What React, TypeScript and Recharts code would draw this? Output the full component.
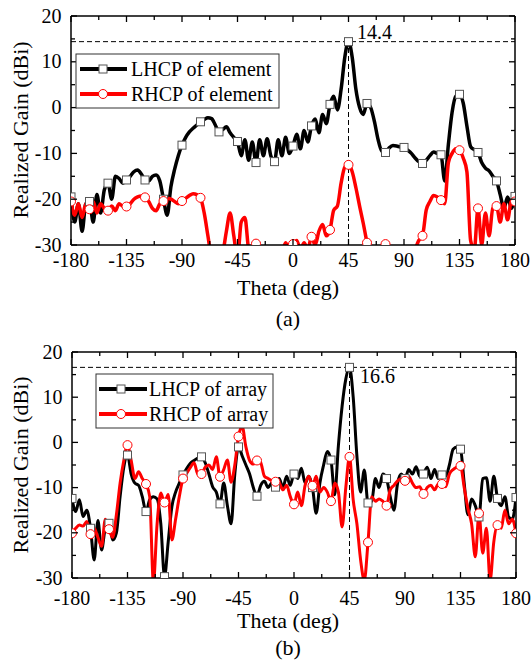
import React from 'react';
import { LineChart, Line, XAxis, YAxis, ReferenceLine } from 'recharts';

const SERIF = '"Liberation Serif", "Times New Roman", serif';

// theta grid (deg)
const theta = [
  -180, -177, -174, -171, -168, -165, -162, -159, -156, -153,
  -150, -147, -144, -141, -138, -135, -132, -129, -126, -123,
  -120, -117, -114, -111, -108, -105, -102, -99, -96, -93,
  -90, -87, -84, -81, -78, -75, -72, -69, -66, -63,
  -60, -57, -54, -51, -48, -45, -42, -39, -36, -33,
  -30, -27, -24, -21, -18, -15, -12, -9, -6, -3,
  0, 3, 6, 9, 12, 15, 18, 21, 24, 27,
  30, 33, 36, 39, 42, 45, 48, 51, 54, 57,
  60, 63, 66, 69, 72, 75, 78, 81, 84, 87,
  90, 93, 96, 99, 102, 105, 108, 111, 114, 117,
  120, 123, 126, 129, 132, 135, 138, 141, 144, 147,
  150, 153, 156, 159, 162, 165, 168, 171, 174, 177,
  180,
];

// (a) element
const elemLhcp = [
  -19.5, -25, -21, -27, -21, -20.5, -25, -19, -23, -18,
  -16.5, -20, -15, -15.5, -16.5, -15.8, -15, -14, -13.6, -14.5,
  -15.8, -16, -15, -14.7, -16, -20, -23.5, -17.3, -13.5, -10.5,
  -8.2, -6.5, -5.3, -4.5, -3.8, -3.1, -2.6, -2.2, -2.4, -3.8,
  -5.3, -4.8, -4.2, -5.5, -6.5, -7.4, -10.5, -7, -11.5, -7.5,
  -12, -7, -10.5, -6.8, -10.5, -11.8, -7, -10.5, -6.5, -10,
  -8.4, -5.8, -9, -5, -7.5, -4, -2.5, -5.5, -1.5, -3.5,
  0.7, 2.5, -0.5, 4, 11, 14.4, 11, 4, 0, -1.5,
  0.9, 0, -3, -7, -9.5, -9.8, -8.8, -8.3, -8.4, -8.6,
  -8.7, -9.3, -10, -11, -11.8, -12.2, -11.5, -10.5, -9.7, -10,
  -10.3, -16, -8, -1, 2.5, 2.9, 1, -4, -8.5, -9.2,
  -9.8, -12, -13.2, -13.8, -15, -16, -19, -22, -19.5, -22,
  -19.4,
];

const elemRhcp = [
  -20.5, -23.5, -21, -24, -21, -22.2, -20.5, -23, -21, -22,
  -22.5, -21.5, -22.5, -21, -21.5, -21.6, -21, -20, -19.5, -19.3,
  -19.6, -20.5, -22, -22.5, -21, -20.4, -19.8, -20, -20.5, -21,
  -20.4, -19.8, -19.2, -18.8, -19, -19.7, -23, -28, -33, -35,
  -35, -32, -27, -23, -28, -33, -25, -24, -31, -33,
  -29.7, -32, -33, -32, -33, -32, -33, -32, -29.5, -31,
  -29.8, -29, -31, -29.5, -31, -28.2, -30, -27, -25.5, -28,
  -26.7, -22.4, -21.5, -16.5, -13, -12.5, -14, -17.5, -21.5, -25.3,
  -29.5, -33, -35, -35, -33, -29.8, -33, -35, -35, -35,
  -35, -35, -33, -31, -29, -28, -22.4, -20.5, -19.2, -19.5,
  -20.2, -21, -12, -10, -9, -9.3, -11, -14, -29, -31,
  -22, -30, -23, -28, -22, -21.5, -25, -21, -24.5, -20.5,
  -20.5,
];

// (b) array
const arrLhcp = [
  -12.4, -15.3, -12.7, -16.4, -15, -19, -26, -17.3, -23.8, -19,
  -17.9, -21.6, -20, -12, -5.5, -2.8, -7, -9, -9.5, -12,
  -15.3, -12.7, -12, -12.5, -18, -29.7, -22, -14.2, -11, -9,
  -7.2, -5.8, -4.6, -4, -3.5, -3.2, -4.5, -7, -9.8, -11,
  -13.6, -9, -14, -18, -7, -1, -3, -5, -7, -10,
  -11.9, -9.5, -8.6, -10, -9, -9.9, -8, -10, -7.5, -9.5,
  -7, -8, -5.7, -9, -7.5, -10, -15.7, -9, -5, -2,
  -3.9, -11.6, -0.7, 8, 14, 16.6, 10, -3, -11, -6.1,
  -13.4, -13, -8, -10, -7, -8, -12, -15, -9, -7,
  -8, -6, -7, -5.4, -7.5, -7, -5.5, -8, -6, -8,
  -7.2, -7.5, -5, -1.5, -1, -1.5, -9, -16, -12.5, -14,
  -16.5, -8, -7.8, -13, -7.5, -12.4, -14, -12, -16.5, -17,
  -12.2,
];

const arrRhcp = [
  -20.1, -19, -18.3, -18.5, -17.5, -20.3, -19, -21, -23, -17,
  -19.2, -21, -16, -9, -4, -0.6, -4, -8, -6.5, -8,
  -9.2, -12, -31, -18, -11.2, -13.3, -11.5, -21.6, -17, -12,
  -8, -6.8, -5.5, -4.5, -7, -7, -5.5, -5, -6, -3.2,
  -7.6, -6, -3.9, -8.8, -5, 1.3, 3.5, -1, -4, -4.8,
  -4, -4.5, -7.5, -8, -8.5, -8.7, -9, -10.5, -9.5, -12,
  -13.7, -11, -14, -9.5, -7.5, -9.6, -7.5, -11, -10, -11,
  -13, -9, -11, -18.7, -10, -3.2, -12.7, -18, -26, -30.5,
  -22.1, -12, -13, -12.5, -13, -14, -10.5, -9.5, -8.5, -8,
  -8.5, -7.5, -9, -10, -9.8, -11.4, -10, -9.5, -10.5, -9.2,
  -9.2, -9.8, -7, -6, -5.5, -5.2, -10, -14.6, -18, -25.3,
  -15.7, -24.5, -19, -30.5, -22, -18.3, -19, -15, -18, -17,
  -20.1,
];

const xTicks = [-180, -157.5, -135, -112.5, -90, -67.5, -45, -22.5, 0, 22.5, 45, 67.5, 90, 112.5, 135, 157.5, 180];
const yTicks = [-30, -25, -20, -15, -10, -5, 0, 5, 10, 15, 20];

const elemRows = theta.map((t, i) => ({ theta: t, lhcp: elemLhcp[i], rhcp: elemRhcp[i] }));
const arrRows = theta.map((t, i) => ({ theta: t, lhcp: arrLhcp[i], rhcp: arrRhcp[i] }));

const xTick = (side: 'bottom' | 'top', gap: number) => (props: any) => {
  const { x, y, payload } = props;
  const v = payload.value;
  const major = Math.abs(v % 45) < 1e-6;
  const len = major ? 6 : 4;
  const dir = side === 'bottom' ? -1 : 1;
  return (
    <g>
      <line x1={x} x2={x} y1={y} y2={y + dir * len} stroke="#000" strokeWidth={1.3} />
      {side === 'bottom' && major && (
        <text x={x} y={y + gap} textAnchor="middle" fontSize={20} fontFamily={SERIF} fill="#000">
          {v}
        </text>
      )}
    </g>
  );
};

const yTick = (side: 'left' | 'right') => (props: any) => {
  const { x, y, payload } = props;
  const v = payload.value;
  const major = Math.abs(v % 10) < 1e-6;
  const len = major ? 6 : 4;
  const dir = side === 'left' ? 1 : -1;
  return (
    <g>
      <line x1={x} x2={x + dir * len} y1={y} y2={y} stroke="#000" strokeWidth={1.3} />
      {side === 'left' && major && (
        <text x={x - 9.5} y={y + 6.5} textAnchor="end" fontSize={20} fontFamily={SERIF} fill="#000">
          {v}
        </text>
      )}
    </g>
  );
};

const makeDot = (key: string, shape: 'square' | 'circle') => (props: any) => {
  const { cx, cy, payload, index } = props;
  const v = payload[key];
  if (payload.theta % 15 !== 0 || v < -30.5 || v > 20 || cx == null || cy == null) {
    return <g key={index} />;
  }
  if (shape === 'square') {
    return <rect key={index} x={cx - 4} y={cy - 4} width={8} height={8} fill="#fff" stroke="#555" strokeWidth={1} />;
  }
  return <circle key={index} cx={cx} cy={cy} r={4.5} fill="#fff" stroke="#ff0000" strokeWidth={1} />;
};

interface PanelProps {
  rows: any[];
  top: number;
  height: number;
  margin: { top: number; right: number; bottom: number; left: number };
  peak: number;
  labelGap: number;
  lineWidth: number;
}

// axes are 1px wide/high, so margins are 1px less than the plot offsets
function Panel({ rows, top, height, margin, peak, labelGap, lineWidth }: PanelProps) {
  const frame = { stroke: '#000', strokeWidth: 1.5 };
  return (
    <div style={{ position: 'absolute', left: 0, top }}>
      <LineChart width={532} height={height} data={rows} margin={margin}>
        <XAxis xAxisId="b" dataKey="theta" type="number" domain={[-180, 180]} ticks={xTicks} interval={0}
          height={1} tickSize={0} tickMargin={0} tickLine={false} axisLine={frame} tick={xTick('bottom', labelGap)} allowDataOverflow />
        <XAxis xAxisId="t" orientation="top" dataKey="theta" type="number" domain={[-180, 180]} ticks={xTicks} interval={0}
          height={1} tickSize={0} tickMargin={0} tickLine={false} axisLine={frame} tick={xTick('top', 0)} allowDataOverflow />
        <YAxis yAxisId="l" type="number" domain={[-30, 20]} ticks={yTicks} interval={0}
          width={1} tickSize={0} tickMargin={0} tickLine={false} axisLine={frame} tick={yTick('left')} allowDataOverflow />
        <YAxis yAxisId="r" orientation="right" type="number" domain={[-30, 20]} ticks={yTicks} interval={0}
          width={1} tickSize={0} tickMargin={0} tickLine={false} axisLine={frame} tick={yTick('right')} allowDataOverflow />
        <ReferenceLine xAxisId="b" yAxisId="l" y={peak} stroke="#000" strokeWidth={1} strokeDasharray="5 3" />
        <ReferenceLine xAxisId="b" yAxisId="l" segment={[{ x: 45, y: -30 }, { x: 45, y: peak }]}
          stroke="#000" strokeWidth={1} strokeDasharray="5 3" />
        <Line xAxisId="b" yAxisId="l" type="monotone" dataKey="lhcp" stroke="#000" strokeWidth={lineWidth}
          dot={makeDot('lhcp', 'square')} activeDot={false} isAnimationActive={false} />
        <Line xAxisId="b" yAxisId="l" type="monotone" dataKey="rhcp" stroke="#ff0000" strokeWidth={lineWidth}
          dot={makeDot('rhcp', 'circle')} activeDot={false} isAnimationActive={false} />
      </LineChart>
    </div>
  );
}

function LegendBox({ x, y, w, lineX1, lineX2, mark, textX, names }: {
  x: number; y: number; w: number; lineX1: number; lineX2: number; mark: number; textX: number; names: string[];
}) {
  return (
    <g>
      <rect x={x} y={y} width={w} height={54} fill="#fff" stroke="#333" strokeWidth={1} />
      <line x1={lineX1} x2={lineX2} y1={y + 15} y2={y + 15} stroke="#000" strokeWidth={4} />
      <rect x={mark - 4} y={y + 11} width={8} height={8} fill="#fff" stroke="#555" strokeWidth={1} />
      <text x={textX} y={y + 22} fontSize={20} fontFamily={SERIF} fill="#000">{names[0]}</text>
      <line x1={lineX1} x2={lineX2} y1={y + 40} y2={y + 40} stroke="#ff0000" strokeWidth={4} />
      <circle cx={mark} cy={y + 40} r={4.5} fill="#fff" stroke="#ff0000" strokeWidth={1} />
      <text x={textX} y={y + 47} fontSize={20} fontFamily={SERIF} fill="#000">{names[1]}</text>
    </g>
  );
}

export default function App() {
  return (
    <div style={{ position: 'absolute', left: 0, top: 0, width: 532, height: 662, background: '#fff' }}>
      <Panel rows={elemRows} top={0} height={330} margin={{ top: 15, right: 16, bottom: 84, left: 70 }}
        peak={14.4} labelGap={22} lineWidth={3.5} />
      <Panel rows={arrRows} top={330} height={332} margin={{ top: 21, right: 15, bottom: 83, left: 71 }}
        peak={16.6} labelGap={27} lineWidth={3} />
      <svg width={532} height={662} style={{ position: 'absolute', left: 0, top: 0, pointerEvents: 'none' }}>
        <LegendBox x={76} y={54} w={203} lineX1={80} lineX2={127} mark={103} textX={131}
          names={['LHCP of element', 'RHCP of element']} />
        <LegendBox x={96} y={374} w={177} lineX1={99} lineX2={147} mark={121} textX={149}
          names={['LHCP of array', 'RHCP of array']} />
        <text x={357} y={39} fontSize={20} fontFamily={SERIF} fill="#000">14.4</text>
        <text x={360} y={383} fontSize={20} fontFamily={SERIF} fill="#000">16.6</text>
        <text x={288} y={295} textAnchor="middle" fontSize={22} fontFamily={SERIF} fill="#000">Theta (deg)</text>
        <text x={288} y={326} textAnchor="middle" fontSize={22} fontFamily={SERIF} fill="#000">(a)</text>
        <text x={288} y={628} textAnchor="middle" fontSize={22} fontFamily={SERIF} fill="#000">Theta (deg)</text>
        <text x={288} y={655} textAnchor="middle" fontSize={22} fontFamily={SERIF} fill="#000">(b)</text>
        <text x={21} y={137} textAnchor="middle" fontSize={22} fontFamily={SERIF} fill="#000"
          transform="rotate(-90, 21, 130)">Realized Gain (dBi)</text>
        <text x={21} y={472} textAnchor="middle" fontSize={22} fontFamily={SERIF} fill="#000"
          transform="rotate(-90, 21, 465)">Realized Gain (dBi)</text>
      </svg>
    </div>
  );
}
